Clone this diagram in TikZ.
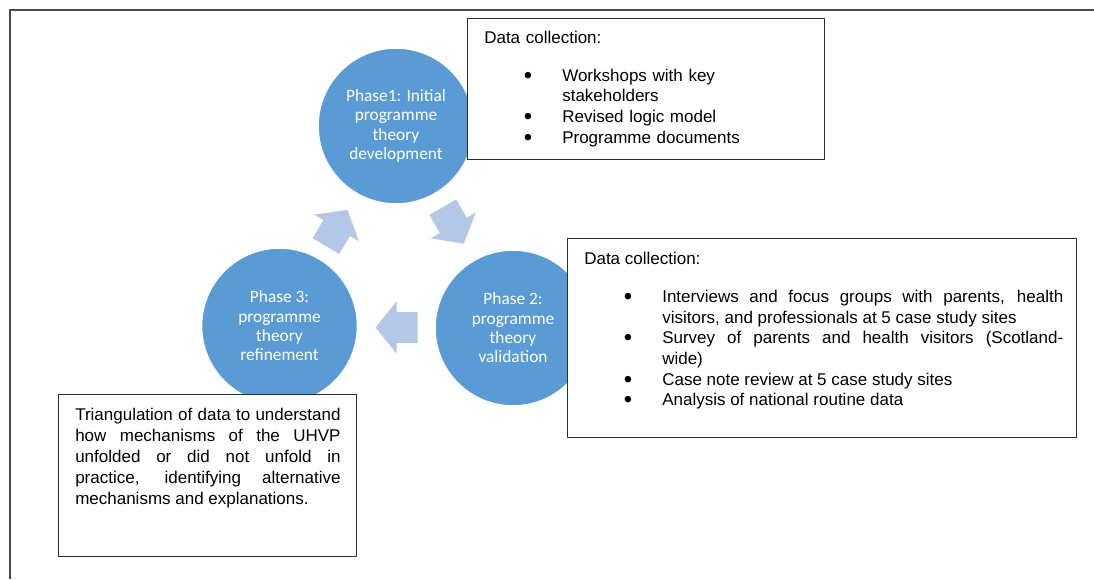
\documentclass[tikz,border=0pt]{standalone}
\usepackage{graphicx}
\usepackage{fontspec}
\setmainfont{Liberation Sans}
\newfontfamily\phasefont{Carlito}

\definecolor{phaseblue}{HTML}{5B9BD5}
\definecolor{arrowblue}{HTML}{B4C7E7}
\definecolor{boxline}{HTML}{2E2E2E}
\definecolor{frameline}{HTML}{4A4A4A}

% a slightly enlarged list bullet
\newcommand\listbullet{\raisebox{-0.12em}{\scalebox{1.4}{\textbullet}}}
% one bulleted entry: text indented, bullet hanging to its left
\newcommand\bulletitem[1]{{\leftskip=58.5pt\noindent\llap{\listbullet\hspace{22.5pt}}#1\par}}

\tikzset{
  phase/.style={circle, fill=phaseblue, draw=white, line width=1.2pt,
    minimum size=117pt, inner sep=0pt, text=white, align=center,
    font=\phasefont\fontsize{13pt}{14.5pt}\selectfont},
  databox/.style={draw=boxline, fill=white, line width=0.9pt,
    anchor=north west, inner sep=0pt},
  listtext/.style={anchor=base west, inner sep=0pt,
    font=\fontsize{12.75pt}{15.5pt}\selectfont},
  cyclearrow/.pic={
    \fill[arrowblue] (-21,-15.5) -- (0,-15.5) -- (0,-26) -- (21,0)
      -- (0,26) -- (0,15.5) -- (-21,15.5) -- cycle;
  }
}

\begin{document}
\begin{tikzpicture}[x=0.75pt, y=-0.75pt]
  \useasboundingbox (0,0) rectangle (1094,579);

  % page frame (top and left edges)
  \coordinate (frameBL) at (10,579);
  \coordinate (frameTL) at (10,10);
  \coordinate (frameTR) at (1094,10);
  \draw[frameline, line width=1.2pt] (frameBL) -- (frameTL) -- (frameTR);

  % the three phases of the cycle
  \node[phase] (p1) at (396,126) {Phase1: Initial\\programme\\theory\\development};
  \node[phase] (p2) at (513,328) {Phase 2:\\programme\\theory\\validation};
  \node[phase] (p3) at (279.5,326) {Phase 3:\\programme\\theory\\refinement};

  % block arrows running round the cycle
  \pic[rotate=-60] (a12) at (453.3,225.4) {cyclearrow};
  \pic[rotate=180] (a23) at (396.5,327.5) {cyclearrow};
  \pic[rotate=59]  (a31) at (336.7,228) {cyclearrow};

  % data boxes
  \node[databox, minimum width=267.75pt, minimum height=105.75pt] (b1) at (467,18) {};
  \node[databox, minimum width=381.75pt, minimum height=149.25pt] (b2) at (567,238) {};
  \node[databox, minimum width=223.5pt, minimum height=121.5pt] (b3) at (58,394) {};

  \node[listtext, text width=250pt, align=left] (t1) at (484,43.5) {%
    Data collection:\par\vspace{12.8pt}
    \bulletitem{Workshops with key\newline stakeholders}
    \bulletitem{Revised logic model}
    \bulletitem{Programme documents}};

  \node[listtext, text width=359.25pt, align=justify] (t2) at (584,264) {%
    Data collection:\par\vspace{13.3pt}
    \bulletitem{Interviews and focus groups with parents, health\linebreak
      visitors, and professionals at 5 case study sites}
    \bulletitem{Survey of parents and health visitors (Scotland-\linebreak wide)}
    \bulletitem{Case note review at 5 case study sites}
    \bulletitem{Analysis of national routine data}};

  \node[listtext, text width=199pt, align=justify,
        font=\fontsize{12.75pt}{15.9pt}\selectfont] (t3) at (75,420) {%
    Triangulation of data to understand\linebreak
    how mechanisms of the UHVP\linebreak
    unfolded or did not unfold in\linebreak
    practice, identifying alternative\linebreak
    mechanisms and explanations.};
\end{tikzpicture}
\end{document}
